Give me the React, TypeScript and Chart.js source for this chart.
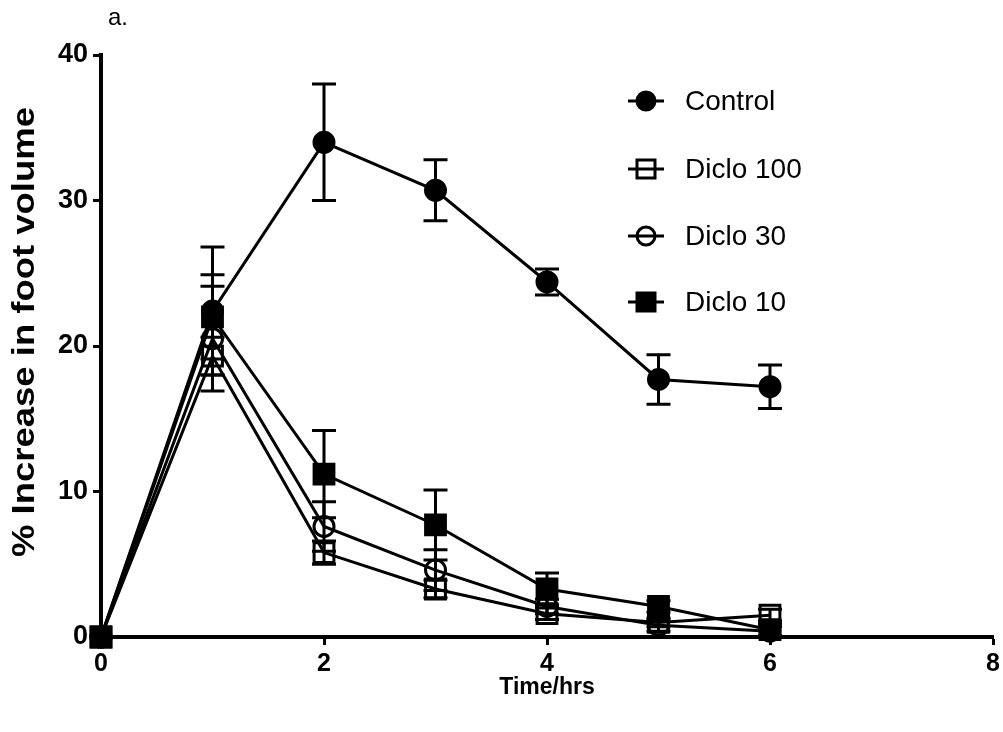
import React, { useEffect, useRef } from 'react';
import { Chart, registerables } from 'chart.js';

Chart.register(...registerables);

const times = [0, 1, 2, 3, 4, 5, 6];
const seriesNames = ['Control', 'Diclo 100', 'Diclo 30', 'Diclo 10'];
const control = [0, 22.4, 34.0, 30.7, 24.4, 17.7, 17.2];
const controlErr = [0, 4.4, 4.0, 2.1, 0.9, 1.7, 1.5];
const diclo100 = [0, 19.3, 5.8, 3.3, 1.6, 1.0, 1.5];
const diclo100Err = [0, 1.3, 0.8, 0.6, 0.4, 0.3, 0.4];
const diclo30 = [0, 20.5, 7.6, 4.6, 2.1, 0.8, 0.4];
const diclo30Err = [0, 3.6, 1.7, 1.4, 0.5, 0.4, 0.3];
const diclo10 = [0, 22.0, 11.2, 7.7, 3.3, 2.1, 0.5];
const diclo10Err = [0, 2.9, 3.0, 2.4, 1.1, 0.4, 0.4];
const xTicks = [0, 2, 4, 6, 8];
const yTicks = [0, 10, 20, 30, 40];
const xTitle = 'Time/hrs';
const yTitle = '% Increase in foot volume';
const panelLabel = 'a.';

const FONT = '"Liberation Sans", Arial, sans-serif';

const seriesValues = [control, diclo100, diclo30, diclo10];
const seriesErrors = [controlErr, diclo100Err, diclo30Err, diclo10Err];
const seriesStyles = [
  { pointStyle: 'circle', radius: 10, filled: true },
  { pointStyle: 'rect', radius: 14, filled: false },
  { pointStyle: 'circle', radius: 10, filled: false },
  { pointStyle: 'rect', radius: 14, filled: true },
];

const errorBarPlugin = {
  id: 'errorBars',
  beforeDatasetsDraw(chart: any) {
    const ctx = chart.ctx;
    const yScale = chart.scales.y;
    ctx.save();
    ctx.strokeStyle = '#000';
    ctx.lineWidth = 3;
    chart.data.datasets.forEach((ds: any, i: number) => {
      const meta = chart.getDatasetMeta(i);
      const errs = seriesErrors[i];
      meta.data.forEach((pt: any, j: number) => {
        const e = errs[j];
        if (!e) return;
        const v = seriesValues[i][j];
        const yt = yScale.getPixelForValue(v + e);
        const yb = yScale.getPixelForValue(Math.max(v - e, 0));
        const x = pt.x;
        ctx.beginPath();
        ctx.moveTo(x, yt);
        ctx.lineTo(x, yb);
        ctx.moveTo(x - 12, yt);
        ctx.lineTo(x + 12, yt);
        ctx.moveTo(x - 12, yb);
        ctx.lineTo(x + 12, yb);
        ctx.stroke();
      });
    });
    ctx.restore();
  },
};

const decorPlugin = {
  id: 'decor',
  afterDraw(chart: any) {
    const ctx = chart.ctx;
    ctx.save();
    // panel label
    ctx.fillStyle = '#000';
    ctx.font = `24px ${FONT}`;
    ctx.textAlign = 'left';
    ctx.textBaseline = 'middle';
    ctx.fillText(panelLabel, 108, 18);

    // y title (stretched along the text direction, as in the source image)
    ctx.save();
    ctx.translate(25, 332);
    ctx.rotate(-Math.PI / 2);
    ctx.font = `bold 31px ${FONT}`;
    const w = ctx.measureText(yTitle).width;
    ctx.scale(450 / w, 1);
    ctx.textAlign = 'center';
    ctx.textBaseline = 'middle';
    ctx.fillText(yTitle, 0, 0);
    ctx.restore();

    // legend
    const rowY = [101, 169, 236, 302];
    seriesNames.forEach((name, i) => {
      const y = rowY[i];
      const st = seriesStyles[i];
      ctx.strokeStyle = '#000';
      ctx.lineWidth = 3;
      ctx.beginPath();
      ctx.moveTo(628, y);
      ctx.lineTo(664, y);
      ctx.stroke();
      ctx.beginPath();
      if (st.pointStyle === 'circle') {
        ctx.arc(646, y, 9, 0, Math.PI * 2);
      } else {
        ctx.rect(646 - 9, y - 9, 18, 18);
      }
      if (st.filled) {
        ctx.fillStyle = '#000';
        ctx.fill();
      }
      ctx.stroke();
      ctx.fillStyle = '#000';
      ctx.font = `28px ${FONT}`;
      ctx.textAlign = 'left';
      ctx.textBaseline = 'middle';
      ctx.fillText(name, 685, y + 1);
    });
    ctx.restore();
  },
};

export default function App() {
  const ref = useRef<HTMLCanvasElement | null>(null);

  useEffect(() => {
    if (!ref.current) return;
    Chart.defaults.font.family = FONT;
    const datasets = seriesNames.map((name, i) => {
      const st = seriesStyles[i];
      return {
        label: name,
        data: times.map((t, j) => ({ x: t, y: seriesValues[i][j] })),
        borderColor: '#000',
        borderWidth: 3,
        showLine: true,
        tension: 0,
        fill: false,
        clip: false,
        pointStyle: st.pointStyle,
        pointRadius: st.radius,
        pointBorderWidth: 3,
        pointBorderColor: '#000',
        pointBackgroundColor: st.filled ? '#000' : 'rgba(0,0,0,0)',
      };
    });

    const chart = new Chart(ref.current, {
      type: 'scatter',
      data: { datasets: datasets as any },
      options: {
        animation: false,
        responsive: false,
        layout: { padding: { left: 0, top: 55, right: 10, bottom: 0 } },
        plugins: {
          legend: { display: false },
          tooltip: { enabled: false },
          title: { display: false },
        },
        scales: {
          x: {
            type: 'linear',
            min: 0,
            max: 8,
            afterBuildTicks: (scale: any) => {
              scale.ticks = xTicks.map((v) => ({ value: v }));
            },
            afterFit: (scale: any) => {
              scale.height = 95;
            },
            grid: {
              drawOnChartArea: false,
              drawTicks: true,
              tickLength: 8,
              tickWidth: 3,
              tickColor: '#000',
            },
            border: { display: true, color: '#000', width: 4 },
            ticks: {
              color: '#000',
              padding: 4,
              font: { size: 25, weight: 'bold', family: FONT },
              maxRotation: 0,
            },
            title: {
              display: true,
              text: xTitle,
              color: '#000',
              font: { size: 23, weight: 'bold', family: FONT },
              padding: { top: 0, bottom: 31 },
            },
          },
          y: {
            type: 'linear',
            min: 0,
            max: 40,
            afterBuildTicks: (scale: any) => {
              scale.ticks = yTicks.map((v) => ({ value: v }));
            },
            afterFit: (scale: any) => {
              scale.width = 101;
            },
            grid: {
              drawOnChartArea: false,
              drawTicks: true,
              tickLength: 8,
              tickWidth: 3,
              tickColor: '#000',
            },
            border: { display: true, color: '#000', width: 4 },
            ticks: {
              color: '#000',
              padding: 5,
              font: { size: 27, weight: 'bold', family: FONT },
            },
            title: { display: false },
          },
        },
      },
      plugins: [errorBarPlugin, decorPlugin],
    } as any);

    return () => chart.destroy();
  }, []);

  return (
    <div style={{ position: 'absolute', left: 0, top: 0, width: 1003, height: 732, overflow: 'hidden', background: '#fff' }}>
      <canvas ref={ref} width={1010} height={732} style={{ display: 'block' }} />
    </div>
  );
}
